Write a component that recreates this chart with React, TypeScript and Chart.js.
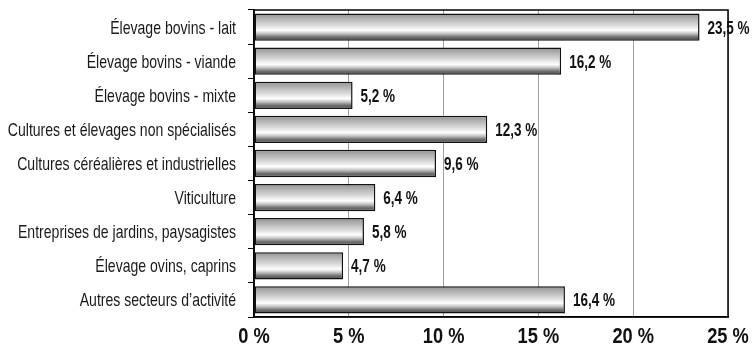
import React, { useEffect, useRef } from "react";
import { Chart, registerables } from "chart.js";

Chart.register(...registerables);

const categories = [
  "Élevage bovins - lait",
  "Élevage bovins - viande",
  "Élevage bovins - mixte",
  "Cultures et élevages non spécialisés",
  "Cultures céréalières et industrielles",
  "Viticulture",
  "Entreprises de jardins, paysagistes",
  "Élevage ovins, caprins",
  "Autres secteurs d’activité",
];

const shares = [23.5, 16.2, 5.2, 12.3, 9.6, 6.4, 5.8, 4.7, 16.4];

const axisMax = 25;
const axisStep = 5;
const barShare = 0.8;

const FONT = '"Liberation Sans", Arial, sans-serif';

const fmt = (v: number) => v.toFixed(1).replace(".", ",") + " %";

// Metallic vertical gradient, built from the bar's slot on the category scale
function barFill(c: any) {
  const chart = c.chart;
  const yScale = chart.scales?.y;
  const area = chart.chartArea;
  if (!yScale || !area || c.dataIndex === undefined) return "#c8c8c8";
  const center = yScale.getPixelForValue(c.dataIndex);
  const half = ((area.bottom - area.top) / categories.length) * barShare * 0.5;
  if (!isFinite(center) || !(half > 0)) return "#c8c8c8";
  const g = chart.ctx.createLinearGradient(0, center - half, 0, center + half);
  g.addColorStop(0, "#8c8c8c");
  g.addColorStop(0.12, "#a6a6a6");
  g.addColorStop(0.42, "#d8d8d8");
  g.addColorStop(0.62, "#ffffff");
  g.addColorStop(0.74, "#c4c4c4");
  g.addColorStop(0.87, "#6e6e6e");
  g.addColorStop(1, "#4a4a4a");
  return g;
}

// Condensed text: a regular face squeezed horizontally
function squeezed(ctx: CanvasRenderingContext2D, text: string, x: number, y: number, sx: number, align: CanvasTextAlign) {
  ctx.save();
  ctx.translate(x, y);
  ctx.scale(sx, 1);
  ctx.textAlign = align;
  ctx.textBaseline = "alphabetic";
  ctx.fillText(text, 0, 0);
  ctx.restore();
}

const frameAndLabels = {
  id: "frameAndLabels",
  afterDraw(chart: any) {
    const { ctx, chartArea, scales } = chart;
    ctx.save();
    ctx.strokeStyle = "#000";
    ctx.lineWidth = 1.5;
    ctx.strokeRect(chartArea.left, chartArea.top, chartArea.right - chartArea.left, chartArea.bottom - chartArea.top);

    // category names
    ctx.fillStyle = "#1a1a1a";
    ctx.font = `19px ${FONT}`;
    categories.forEach((name, i) => {
      const y = scales.y.getPixelForValue(i);
      squeezed(ctx, name, chartArea.left - 18, y + 6.5, 0.74, "right");
    });

    // axis values
    ctx.fillStyle = "#111";
    ctx.font = `bold 22px ${FONT}`;
    for (let v = 0; v <= axisMax; v += axisStep) {
      const x = scales.x.getPixelForValue(v);
      squeezed(ctx, `${v} %`, x, chartArea.bottom + 26, 0.83, "center");
    }

    // bar values
    const meta = chart.getDatasetMeta(0);
    ctx.font = `bold 18px ${FONT}`;
    meta.data.forEach((bar: any, i: number) => {
      squeezed(ctx, fmt(shares[i]), bar.x + 8, bar.y + 6.5, 0.75, "left");
    });
    ctx.restore();
  },
};

export default function App() {
  const ref = useRef<HTMLCanvasElement | null>(null);

  useEffect(() => {
    document.body.style.margin = "0";
    const canvas = ref.current;
    if (!canvas) return;
    const chart = new Chart(canvas, {
      type: "bar",
      data: {
        labels: categories,
        datasets: [
          {
            data: shares,
            backgroundColor: barFill,
            borderColor: "#111",
            borderWidth: 1.5,
            borderSkipped: false,
            categoryPercentage: 1,
            barPercentage: barShare,
          },
        ],
      },
      options: {
        indexAxis: "y",
        responsive: false,
        animation: false,
        maintainAspectRatio: false,
        layout: { padding: { top: 10, right: 24, left: 0, bottom: 0 } },
        plugins: {
          legend: { display: false },
          tooltip: { enabled: false },
        },
        scales: {
          x: {
            min: 0,
            max: axisMax,
            ticks: { stepSize: axisStep, display: false },
            grid: { color: "#a0a0a0", lineWidth: 1, drawTicks: false },
            border: { display: true, color: "#000", width: 1.5 },
            afterFit: (s: any) => {
              s.height = 27;
            },
          },
          y: {
            ticks: { display: false },
            grid: {
              offset: true,
              drawOnChartArea: false,
              drawTicks: true,
              tickLength: 6,
              color: "#000",
            },
            border: { display: true, color: "#000", width: 1.5 },
            afterFit: (s: any) => {
              s.width = 254;
            },
          },
        },
      },
      plugins: [frameAndLabels],
    });
    return () => chart.destroy();
  }, []);

  return <canvas ref={ref} width={752} height={344} style={{ display: "block" }} />;
}
